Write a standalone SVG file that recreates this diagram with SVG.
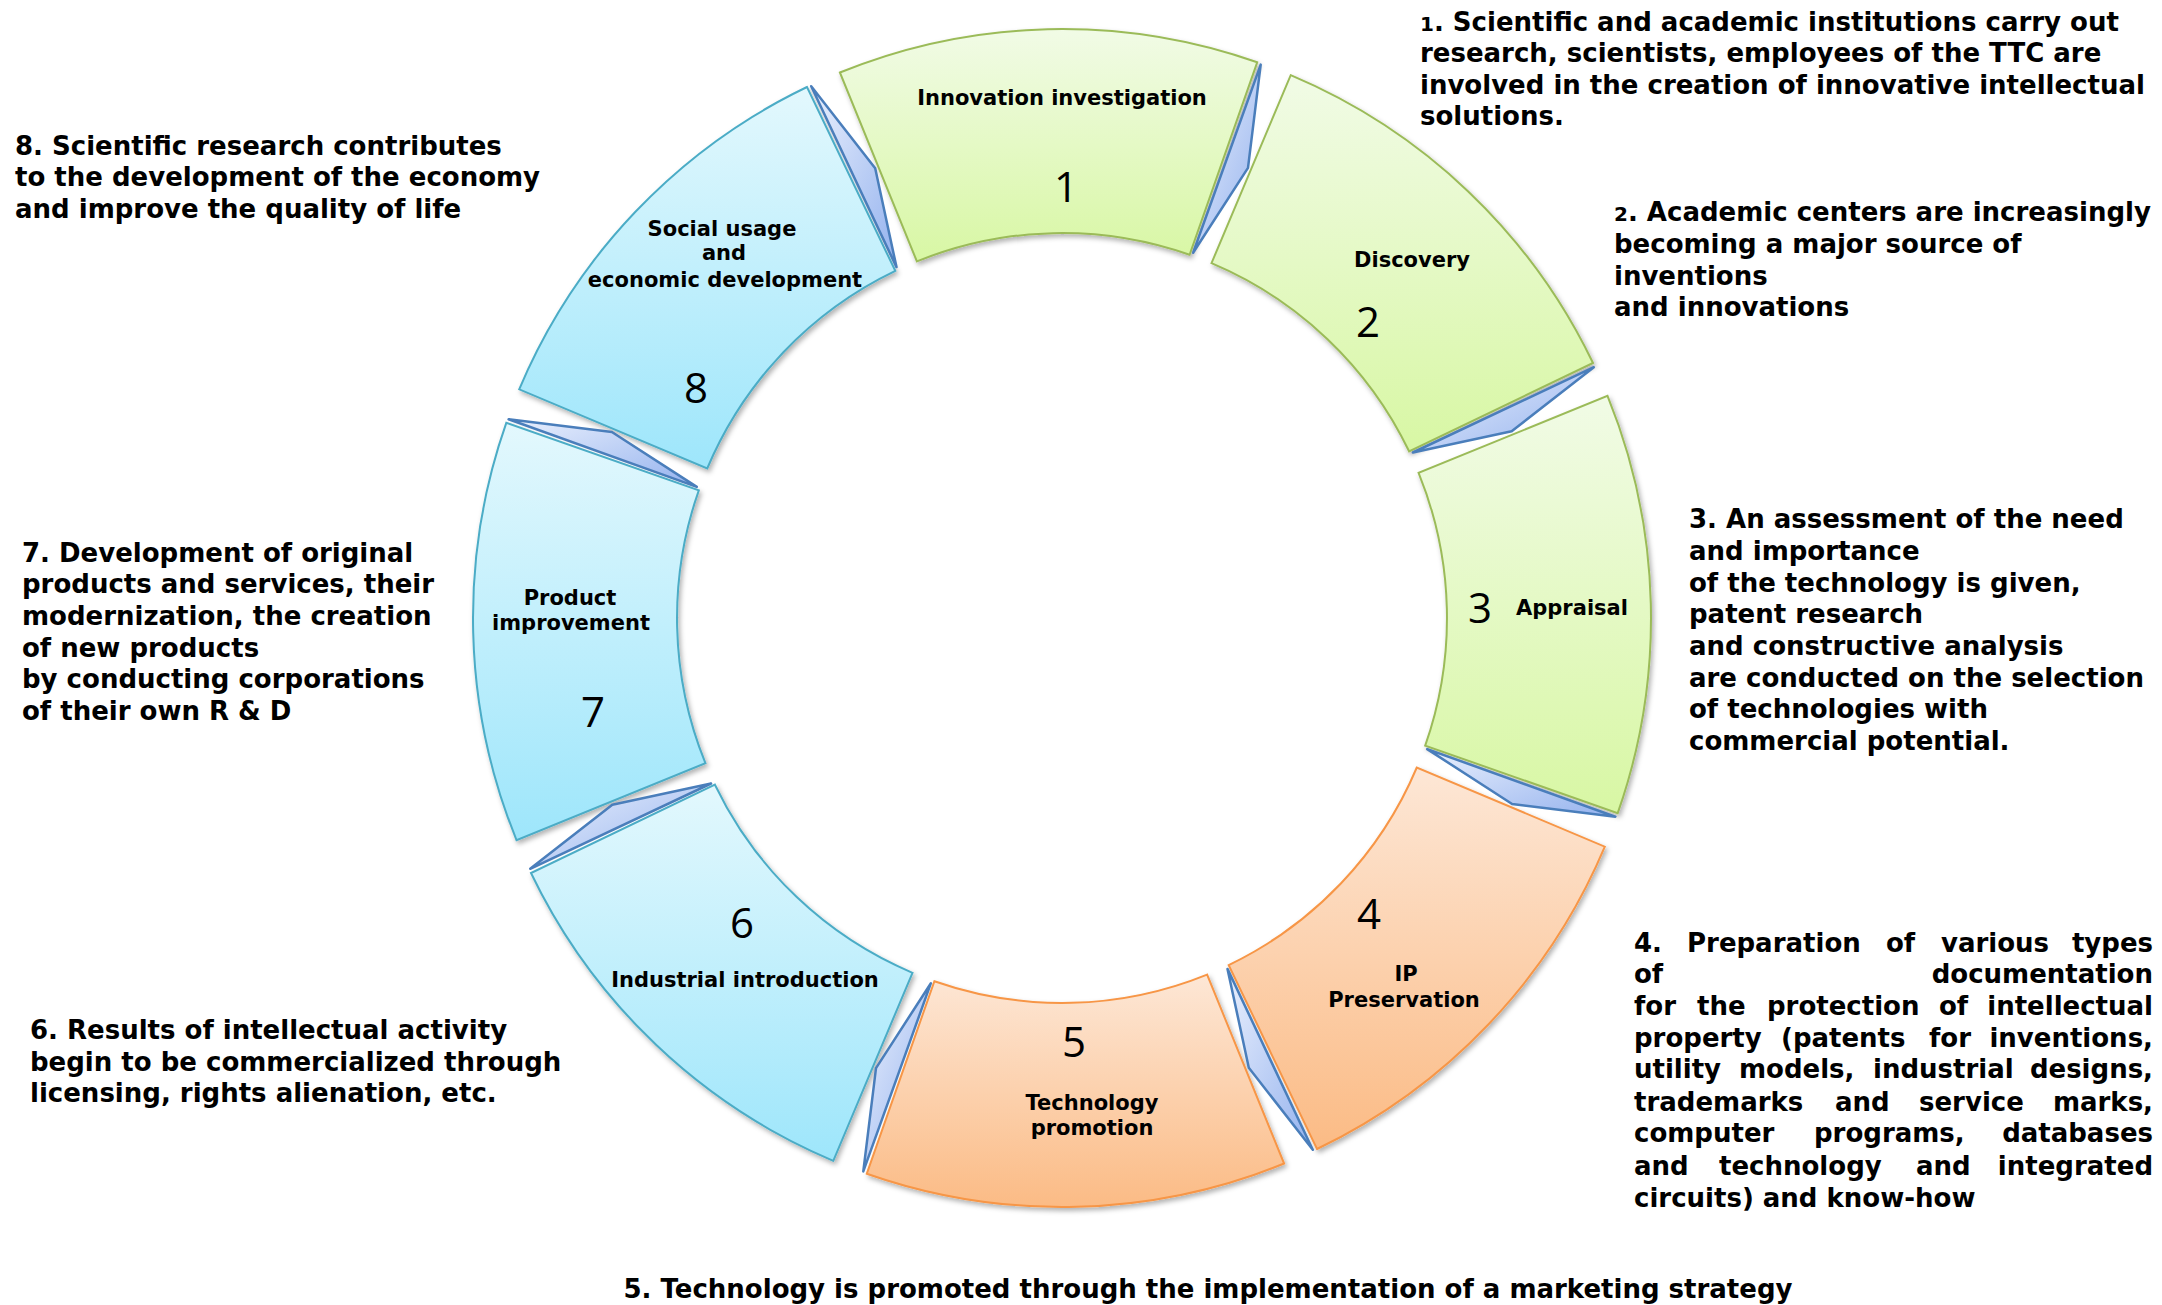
<svg xmlns="http://www.w3.org/2000/svg" width="2162" height="1305" viewBox="0 0 2162 1305">
<style>
  .lbl { font-family: "DejaVu Sans", Verdana, sans-serif; font-weight: bold; font-size: 21px; fill: #000; text-anchor: middle; }
  .num { font-family: "Open Sans", "DejaVu Sans", sans-serif; font-weight: normal; font-size: 42px; fill: #000; text-anchor: middle; }
  .para { font-family: "DejaVu Sans", Verdana, sans-serif; font-weight: bold; font-size: 26px; fill: #000; }
  .small { font-size: 20px; }
  .end { text-anchor: end; }
  .mid { text-anchor: middle; }
  .green { fill: url(#gGreen); stroke: #9bbb59; stroke-width: 2; }
  .orange { fill: url(#gOrange); stroke: #f79646; stroke-width: 2; }
  .blue { fill: url(#gBlue); stroke: #4bacc6; stroke-width: 2; }
  .conn { fill: url(#gConn); stroke: #4a7ebb; stroke-width: 2.5; stroke-linejoin: round; }
</style>
<defs>
  <linearGradient id="gGreen" x1="0" y1="0" x2="0" y2="1">
    <stop offset="0" stop-color="#f1fbe6"/>
    <stop offset="1" stop-color="#d8f7a4"/>
  </linearGradient>
  <linearGradient id="gOrange" x1="0" y1="0" x2="0" y2="1">
    <stop offset="0" stop-color="#fde7d6"/>
    <stop offset="1" stop-color="#fbbb85"/>
  </linearGradient>
  <linearGradient id="gBlue" x1="0" y1="0" x2="0" y2="1">
    <stop offset="0" stop-color="#e3f8fd"/>
    <stop offset="1" stop-color="#9ee6fb"/>
  </linearGradient>
  <linearGradient id="gConn" x1="0" y1="0" x2="1" y2="1">
    <stop offset="0" stop-color="#eaf0fd"/>
    <stop offset="1" stop-color="#94b2ee"/>
  </linearGradient>
  <filter id="sh" x="-10%" y="-10%" width="120%" height="120%">
    <feDropShadow dx="2" dy="3" stdDeviation="2.5" flood-color="#000" flood-opacity="0.3"/>
  </filter>
</defs>
<rect width="2162" height="1305" fill="#ffffff"/>

<g id="node1">
  <path class="green" filter="url(#sh)" d="M839.9,72.5 A589,589 0 0 1 1257.2,62.3 L1189.6,254.8 A385,385 0 0 0 916.9,261.4 Z"/>
  <text class="lbl" x="1062" y="105">Innovation investigation</text>
  <text class="num" x="1066" y="202">1</text>
</g>
<g id="node2">
  <path class="green" filter="url(#sh)" d="M1290.7,75.2 A589,589 0 0 1 1593.0,363.0 L1409.1,451.3 A385,385 0 0 0 1211.5,263.2 Z"/>
  <text class="lbl" x="1412" y="267">Discovery</text>
  <text class="num" x="1368" y="337">2</text>
</g>
<g id="node3">
  <path class="green" filter="url(#sh)" d="M1607.5,395.9 A589,589 0 0 1 1617.7,813.2 L1425.2,745.6 A385,385 0 0 0 1418.6,472.9 Z"/>
  <text class="lbl" x="1572" y="615">Appraisal</text>
  <text class="num" x="1480" y="623">3</text>
</g>
<g id="node4">
  <path class="orange" filter="url(#sh)" d="M1604.8,846.7 A589,589 0 0 1 1317.0,1149.0 L1228.7,965.1 A385,385 0 0 0 1416.8,767.5 Z"/>
  <text class="num" x="1369" y="929">4</text>
  <text class="lbl" x="1406" y="981">IP</text>
  <text class="lbl" x="1404" y="1007">Preservation</text>
</g>
<g id="node5">
  <path class="orange" filter="url(#sh)" d="M1284.1,1163.5 A589,589 0 0 1 866.8,1173.7 L934.4,981.2 A385,385 0 0 0 1207.1,974.6 Z"/>
  <text class="num" x="1074" y="1057">5</text>
  <text class="lbl" x="1092" y="1110">Technology</text>
  <text class="lbl" x="1092" y="1135">promotion</text>
</g>
<g id="node6">
  <path class="blue" filter="url(#sh)" d="M833.3,1160.8 A589,589 0 0 1 531.0,873.0 L714.9,784.7 A385,385 0 0 0 912.5,972.8 Z"/>
  <text class="num" x="742" y="938">6</text>
  <text class="lbl" x="745" y="987">Industrial introduction</text>
</g>
<g id="node7">
  <path class="blue" filter="url(#sh)" d="M516.5,840.1 A589,589 0 0 1 506.3,422.8 L698.8,490.4 A385,385 0 0 0 705.4,763.1 Z"/>
  <text class="lbl" x="570" y="605">Product</text>
  <text class="lbl" x="571" y="630">improvement</text>
  <text class="num" x="593" y="727">7</text>
</g>
<g id="node8">
  <path class="blue" filter="url(#sh)" d="M519.2,389.3 A589,589 0 0 1 807.0,87.0 L895.3,270.9 A385,385 0 0 0 707.2,468.5 Z"/>
  <text class="lbl" x="722" y="236">Social usage</text>
  <text class="lbl" x="724" y="260">and</text>
  <text class="lbl" x="725" y="287">economic development</text>
  <text class="num" x="696" y="403">8</text>
</g>

<g id="connectors">
  <path class="conn" d="M1193.1,252.8 L1260.7,64.6 L1248.0,167.9 Z"/>
  <path class="conn" d="M1412.9,452.5 L1593.8,367.2 L1511.7,431.2 Z"/>
  <path class="conn" d="M1427.2,749.1 L1615.4,816.7 L1512.1,804.0 Z"/>
  <path class="conn" d="M1227.5,968.9 L1312.8,1149.8 L1248.8,1067.7 Z"/>
  <path class="conn" d="M930.9,983.2 L863.3,1171.4 L876.0,1068.1 Z"/>
  <path class="conn" d="M711.1,783.5 L530.2,868.8 L612.3,804.8 Z"/>
  <path class="conn" d="M696.8,486.9 L508.6,419.3 L611.9,432.0 Z"/>
  <path class="conn" d="M896.5,267.1 L811.2,86.2 L875.2,168.3 Z"/>
</g>

<g id="text1">
  <text class="para" x="1420" y="31"><tspan class="small">1</tspan>. Scientific and academic institutions carry out</text>
  <text class="para" x="1420" y="62">research, scientists, employees of the TTC are</text>
  <text class="para" x="1420" y="94">involved in the creation of innovative intellectual</text>
  <text class="para" x="1420" y="125">solutions.</text>
</g>
<g id="text2">
  <text class="para" x="1614" y="221"><tspan class="small">2</tspan>. Academic centers are increasingly</text>
  <text class="para" x="1614" y="253">becoming a major source of</text>
  <text class="para" x="1614" y="285">inventions</text>
  <text class="para" x="1614" y="316">and innovations</text>
</g>
<g id="text3">
  <text class="para" x="1689" y="528">3. An assessment of the need</text>
  <text class="para" x="1689" y="560">and importance</text>
  <text class="para" x="1689" y="592">of the technology is given,</text>
  <text class="para" x="1689" y="623">patent research</text>
  <text class="para" x="1689" y="655">and constructive analysis</text>
  <text class="para" x="1689" y="687">are conducted on the selection</text>
  <text class="para" x="1689" y="718">of technologies with</text>
  <text class="para" x="1689" y="750">commercial potential.</text>
</g>
<g id="text4">
  <text class="para" y="952"><tspan x="1634">4.</tspan><tspan x="1687">Preparation</tspan><tspan x="1886">of</tspan><tspan x="1941">various</tspan></text>
  <text class="para end" x="2153" y="952">types</text>
  <text class="para" x="1634" y="983">of</text>
  <text class="para end" x="2153" y="983">documentation</text>
  <text class="para" y="1015"><tspan x="1634">for</tspan><tspan x="1697">the</tspan><tspan x="1767">protection</tspan><tspan x="1939">of</tspan></text>
  <text class="para end" x="2153" y="1015">intellectual</text>
  <text class="para" y="1047"><tspan x="1634">property</tspan><tspan x="1781">(patents</tspan><tspan x="1929">for</tspan></text>
  <text class="para end" x="2153" y="1047">inventions,</text>
  <text class="para" y="1078"><tspan x="1634">utility</tspan><tspan x="1739">models,</tspan><tspan x="1873">industrial</tspan></text>
  <text class="para end" x="2153" y="1078">designs,</text>
  <text class="para" y="1111"><tspan x="1634">trademarks</tspan><tspan x="1835">and</tspan><tspan x="1919">service</tspan></text>
  <text class="para end" x="2153" y="1111">marks,</text>
  <text class="para" y="1142"><tspan x="1634">computer</tspan><tspan x="1814">programs,</tspan></text>
  <text class="para end" x="2153" y="1142">databases</text>
  <text class="para" y="1175"><tspan x="1634">and</tspan><tspan x="1719">technology</tspan><tspan x="1916">and</tspan></text>
  <text class="para end" x="2153" y="1175">integrated</text>
  <text class="para" x="1634" y="1207">circuits) and know-how</text>
</g>
<g id="text5">
  <text class="para mid" x="1208" y="1298">5. Technology is promoted through the implementation of a marketing strategy</text>
</g>
<g id="text6">
  <text class="para" x="30" y="1039">6. Results of intellectual activity</text>
  <text class="para" x="30" y="1071">begin to be commercialized through</text>
  <text class="para" x="30" y="1102">licensing, rights alienation, etc.</text>
</g>
<g id="text7">
  <text class="para" x="22" y="562">7. Development of original</text>
  <text class="para" x="22" y="593">products and services, their</text>
  <text class="para" x="22" y="625">modernization, the creation</text>
  <text class="para" x="22" y="657">of new products</text>
  <text class="para" x="22" y="688">by conducting corporations</text>
  <text class="para" x="22" y="720">of their own R &amp; D</text>
</g>
<g id="text8">
  <text class="para" x="15" y="155">8. Scientific research contributes</text>
  <text class="para" x="15" y="186">to the development of the economy</text>
  <text class="para" x="15" y="218">and improve the quality of life</text>
</g>
</svg>
